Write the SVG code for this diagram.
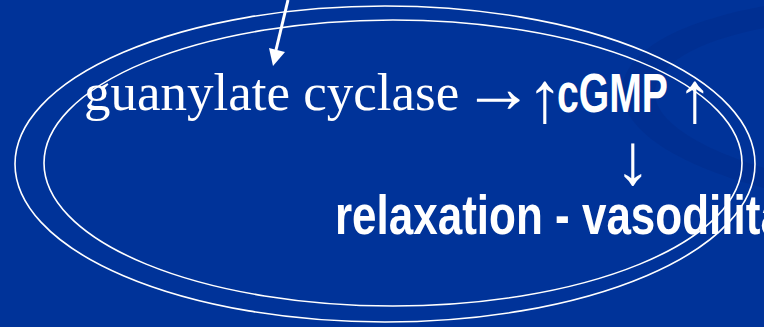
<svg xmlns="http://www.w3.org/2000/svg" width="764" height="327" viewBox="0 0 764 327">
<defs>
<style>
.ring{fill:none;stroke:#fff;stroke-width:1.6}
.serif{font-family:"Liberation Serif","Times New Roman",serif;fill:#fff}
.arrow{font-family:"Liberation Serif","Times New Roman",serif;fill:#fff;font-size:72px}
.bold{font-family:"Liberation Sans",Arial,sans-serif;font-weight:bold;fill:#fff}
.conn{stroke:#fff;stroke-width:3;fill:none}
</style>
</defs>
<rect width="764" height="327" fill="#003399"/>
<path d="M764,6 C700,18 628,42 622,88 C620,135 690,168 764,188 L764,168 C705,150 652,122 655,90 C660,58 712,38 764,28 Z" fill="#002a88" opacity="0.4"/>
<g id="outer-ring"><ellipse class="ring" cx="385" cy="164" rx="370" ry="158"/></g>
<g id="inner-ring"><ellipse class="ring" cx="393" cy="163" rx="349" ry="143"/></g>
<g id="guanylate"><text class="serif" x="84" y="110" font-size="53">guanylate cyclase</text></g>
<g id="cgmp">
<text class="arrow" x="462" y="112">→<tspan x="527" dy="10">↑</tspan></text>
<text class="bold" font-size="44" transform="translate(557,112) scale(0.89,1.25)">cGMP</text>
<text class="arrow" x="677" y="122">↑</text>
</g>
<g id="relaxation">
<text class="arrow" x="615" y="184">↓</text>
<text class="bold" font-size="44" transform="translate(335,234) scale(1.0,1.25)">relaxation - vasodilitation</text>
</g>
<g id="connectors">
<line class="conn" x1="288" y1="0" x2="276" y2="50"/>
<polygon points="269,48 285,52 273,66" fill="#fff"/>
</g>
</svg>
